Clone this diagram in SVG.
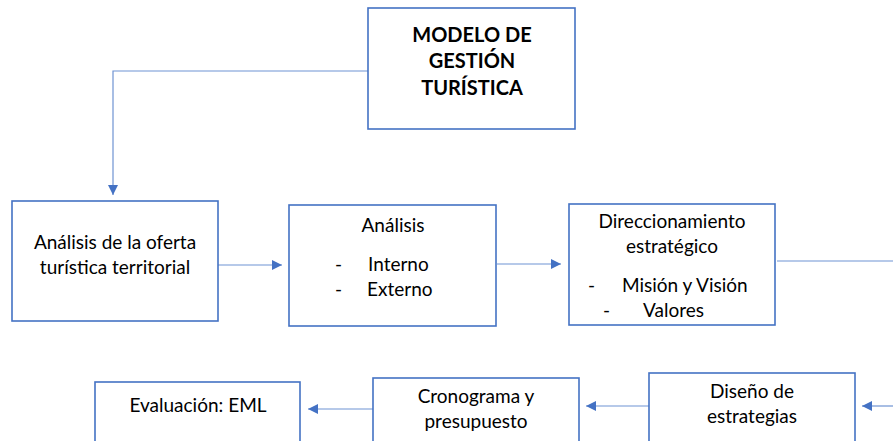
<svg xmlns="http://www.w3.org/2000/svg" width="893" height="441" viewBox="0 0 893 441">
<defs>
<style>
.box{fill:#fff;stroke:#4472C4;stroke-width:1.6}
.ln{fill:none;stroke:#6F93D3;stroke-width:1.2}
text{font-family:Lato,"Open Sans",sans-serif;font-size:19px;fill:#000}
.c{text-anchor:middle}
.b{font-weight:bold;font-size:20px}
</style>
<marker id="ah" viewBox="0 0 10 10" refX="10" refY="5" markerWidth="10" markerHeight="10" markerUnits="userSpaceOnUse" orient="auto">
<path d="M0,0 L10,5 L0,10 z" fill="#4472C4"/>
</marker>
</defs>
<rect width="893" height="441" fill="#fff"/>
<g id="connectors">
<path class="ln" d="M368,71 H113 V195" marker-end="url(#ah)"/>
<path class="ln" d="M218,265 H282" marker-end="url(#ah)"/>
<path class="ln" d="M497,264 H561" marker-end="url(#ah)"/>
<path class="ln" d="M777,261 H893"/>
<path class="ln" d="M893,406 H862" marker-end="url(#ah)"/>
<path class="ln" d="M649,406 H586" marker-end="url(#ah)"/>
<path class="ln" d="M373,409 H308" marker-end="url(#ah)"/>
</g>
<g id="modelo">
<rect class="box" x="368" y="8" width="207" height="121"/>
<text class="c b" x="472" y="42">MODELO DE</text>
<text class="c b" x="472" y="68">GESTIÓN</text>
<text class="c b" x="472" y="95">TURÍSTICA</text>
</g>
<g id="analisis-oferta">
<rect class="box" x="12" y="201" width="206" height="120"/>
<text class="c" x="115" y="249">Análisis de la oferta</text>
<text class="c" x="115" y="274">turística territorial</text>
</g>
<g id="analisis">
<rect class="box" x="289" y="205" width="207" height="121"/>
<text class="c" x="393" y="232">Análisis</text>
<text x="335" y="271">-</text>
<text x="368" y="271">Interno</text>
<text x="335" y="296">-</text>
<text x="367" y="296">Externo</text>
</g>
<g id="direccionamiento">
<rect class="box" x="569" y="204" width="206" height="121"/>
<text class="c" x="672" y="228">Direccionamiento</text>
<text class="c" x="672" y="253">estratégico</text>
<text x="588" y="292">-</text>
<text x="622" y="292">Misión y Visión</text>
<text x="603" y="317">-</text>
<text x="643" y="317">Valores</text>
</g>
<g id="diseno">
<rect class="box" x="649" y="373" width="206" height="80"/>
<text class="c" x="752" y="398">Diseño de</text>
<text class="c" x="752" y="423">estrategias</text>
</g>
<g id="cronograma">
<rect class="box" x="373" y="378" width="206" height="75"/>
<text class="c" x="476" y="403">Cronograma y</text>
<text class="c" x="476" y="428">presupuesto</text>
</g>
<g id="evaluacion">
<rect class="box" x="95" y="382" width="205" height="75"/>
<text class="c" x="198" y="412">Evaluación: EML</text>
</g>
</svg>
